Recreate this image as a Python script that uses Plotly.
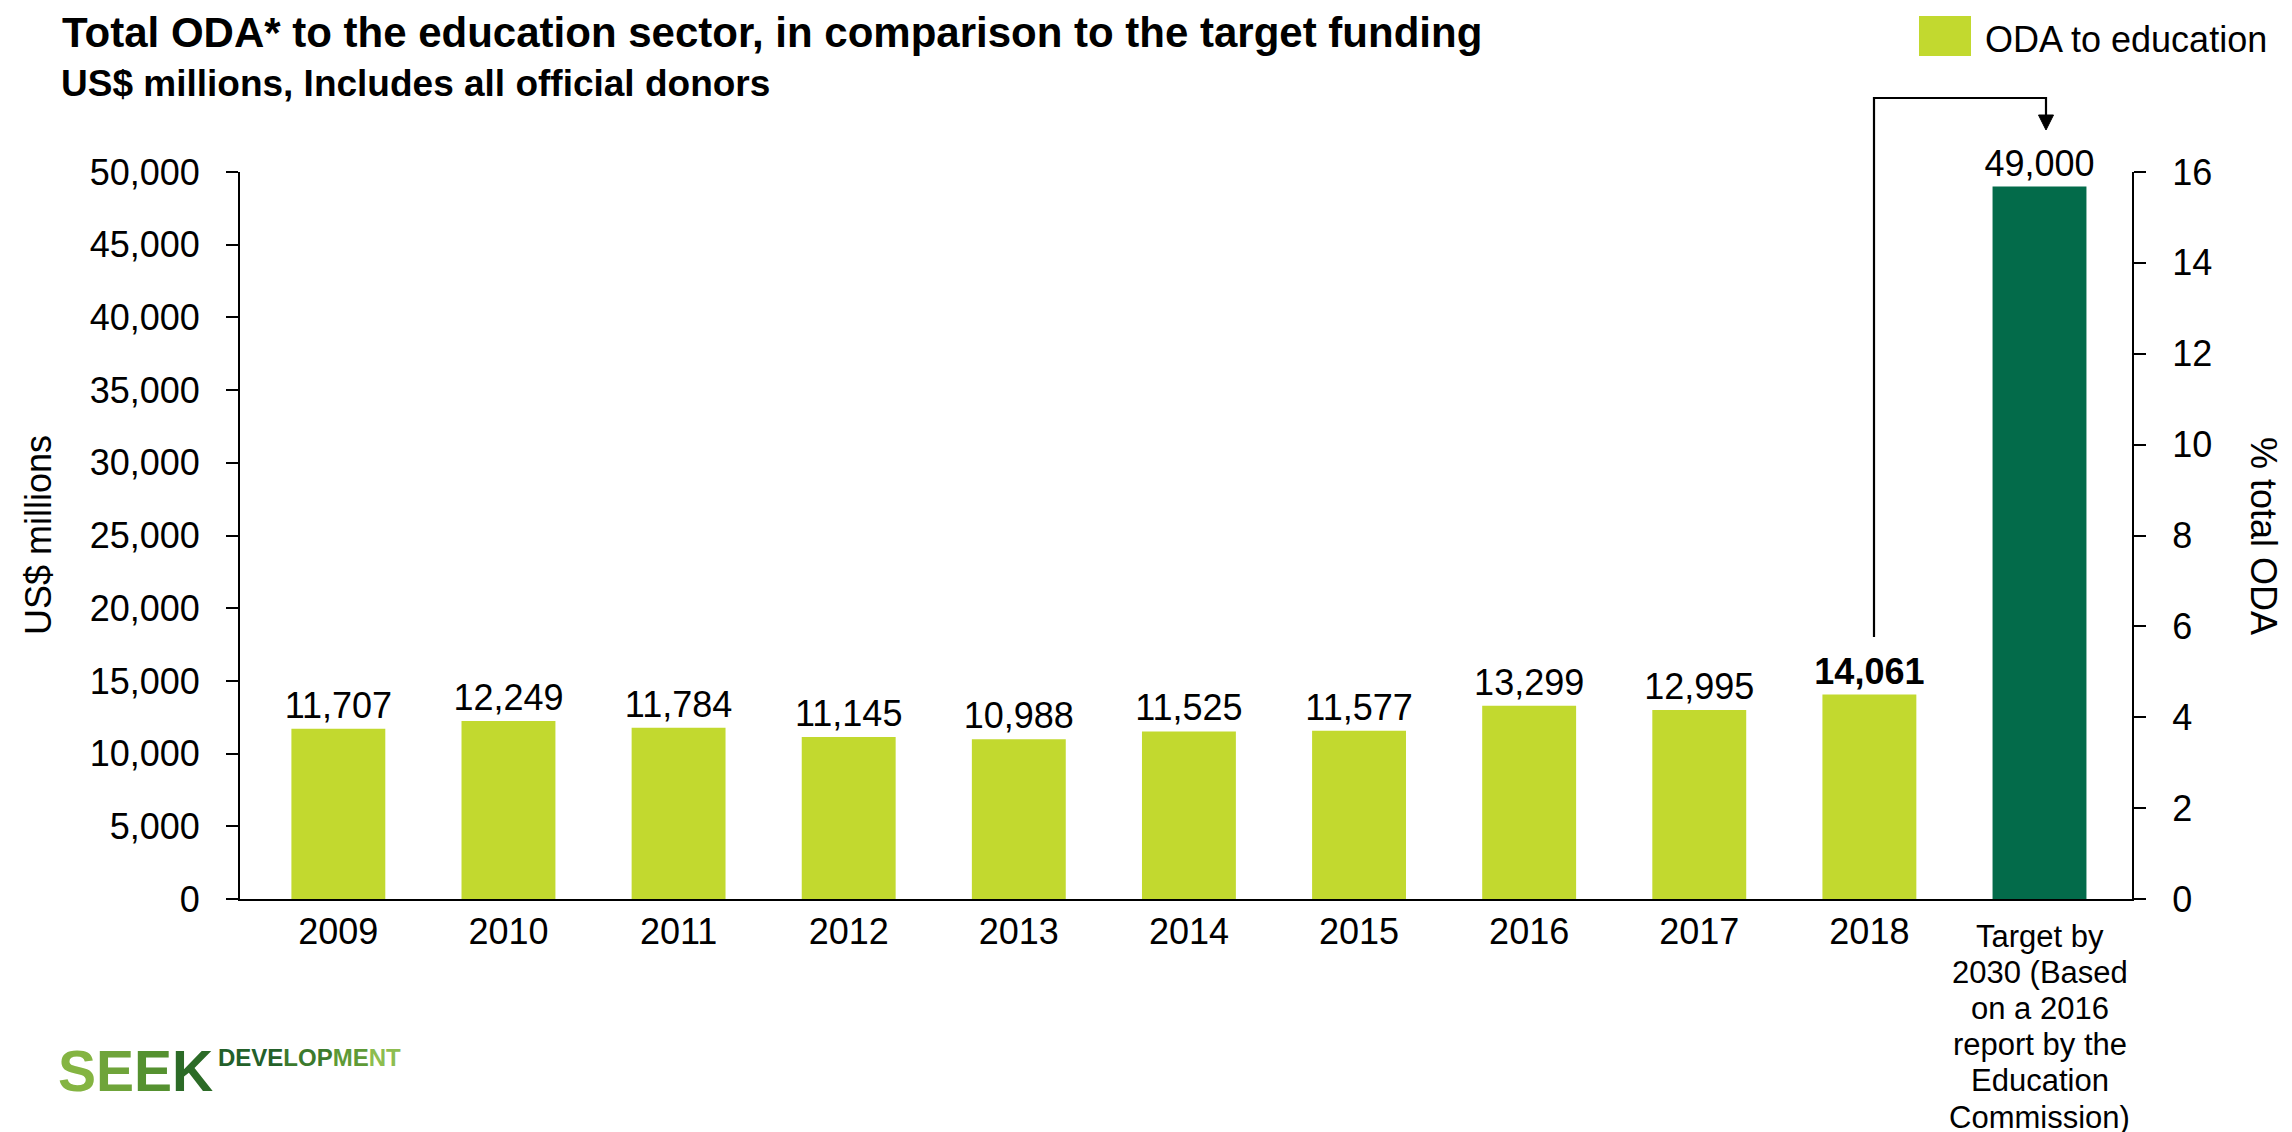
import plotly.graph_objects as go

# ---------------- data ----------------
categories = ['2009', '2010', '2011', '2012', '2013', '2014', '2015', '2016', '2017', '2018',
              'Target by 2030 (Based on a 2016 report by the Education Commission)']
oda_values = [11707, 12249, 11784, 11145, 10988, 11525, 11577, 13299, 12995, 14061, 49000]
tick_labels = ['2009', '2010', '2011', '2012', '2013', '2014', '2015', '2016', '2017', '2018', '']
target_label_lines = ['Target by', '2030 (Based', 'on a 2016', 'report by the', 'Education', 'Commission)']
bold_labels = ['2018']
left_ticks = [0, 5000, 10000, 15000, 20000, 25000, 30000, 35000, 40000, 45000, 50000]
right_ticks = [0, 2, 4, 6, 8, 10, 12, 14, 16]

LIGHT = '#C2D92F'
DARK = '#036B4A'
bar_colors = [DARK if c.startswith('Target') else LIGHT for c in categories]
bar_text = [('<b>{:,}</b>' if c in bold_labels else '{:,}').format(v) for c, v in zip(categories, oda_values)]

FONT = 'Liberation Sans, Arial, sans-serif'
W, H = 2292, 1132
L, R, T, B = 232, 168, 164, 241
PW, PH = W - L - R, H - T - B


def px_x(px):
    return (px - L) / PW


def px_y(py):
    return (H - B - py) / PH


def cat_x(i):
    return (i + 0.5) / len(categories)


fig = go.Figure()
fig.add_trace(go.Bar(
    x=categories, y=oda_values, name='ODA to education',
    marker=dict(color=bar_colors, line=dict(width=0)),
    text=bar_text, textposition='outside', textangle=0, constraintext='none',
    textfont=dict(family=FONT, size=36, color='black'),
    cliponaxis=False, showlegend=False, hoverinfo='x+y',
))
fig.add_trace(go.Scatter(x=[categories[0]], y=[None], yaxis='y2', showlegend=False,
                         hoverinfo='skip', mode='markers'))

annotations = []
shapes = []

# title & subtitle
annotations.append(dict(text='<b>Total ODA* to the education sector, in comparison to the target funding</b>',
                        xref='paper', yref='paper', x=px_x(52), y=px_y(24), xanchor='left', yanchor='middle',
                        showarrow=False, font=dict(family=FONT, size=42, color='black')))
annotations.append(dict(text='<b>US$ millions, Includes all official donors</b>',
                        xref='paper', yref='paper', x=px_x(51), y=px_y(75), xanchor='left', yanchor='middle',
                        showarrow=False, font=dict(family=FONT, size=37, color='black')))

# axis titles
annotations.append(dict(text='US$ millions', xref='paper', yref='paper', x=px_x(30), y=px_y(527),
                        xanchor='center', yanchor='middle', textangle=-90, showarrow=False,
                        font=dict(family=FONT, size=36, color='black')))
annotations.append(dict(text='% total ODA', xref='paper', yref='paper', x=px_x(2256), y=px_y(528),
                        xanchor='center', yanchor='middle', textangle=90, showarrow=False,
                        font=dict(family=FONT, size=36, color='black')))

# manual legend
shapes.append(dict(type='rect', xref='paper', yref='paper', x0=px_x(1911), x1=px_x(1963),
                   y0=px_y(48), y1=px_y(8), fillcolor=LIGHT, line=dict(width=0)))
annotations.append(dict(text='ODA to education', xref='paper', yref='paper', x=px_x(1975), y=px_y(31),
                        xanchor='left', yanchor='middle', showarrow=False,
                        font=dict(family=FONT, size=36, color='black')))

# multi-line target category label
for k, line in enumerate(target_label_lines):
    annotations.append(dict(text=line, xref='x', yref='paper', x=categories[-1], y=px_y(928 + 36.2 * k),
                            xanchor='center', yanchor='middle', showarrow=False,
                            font=dict(family=FONT, size=31, color='black')))

# connector arrow from 2018 to target
i18 = categories.index('2018')
itg = len(categories) - 1
xa, xb = cat_x(i18), cat_x(itg)
shapes.append(dict(type='path', xref='paper', yref='paper',
                   path=f'M {xa},{px_y(629)} L {xa},{px_y(90)} L {xb},{px_y(90)} L {xb},{px_y(108)}',
                   line=dict(color='black', width=2.2)))
hw = 7.5 / PW
shapes.append(dict(type='path', xref='paper', yref='paper',
                   path=f'M {xb - hw},{px_y(107)} L {xb + hw},{px_y(107)} L {xb},{px_y(122)} Z',
                   fillcolor='black', line=dict(color='black', width=1)))

# logo
annotations.append(dict(text='<b><span style="color:#84B442">S</span><span style="color:#6FA43A">E</span>'
                             '<span style="color:#559130">E</span><span style="color:#2C6B27">K</span></b>',
                        xref='paper', yref='paper', x=px_x(48), y=px_y(1063), xanchor='left', yanchor='middle',
                        showarrow=False, font=dict(family=FONT, size=57)))
annotations.append(dict(text='<b><span style="color:#23602A">DEVE</span><span style="color:#3C7A2D">LOP</span>'
                             '<span style="color:#5E9A36">ME</span><span style="color:#8DBD50">NT</span></b>',
                        xref='paper', yref='paper', x=px_x(208), y=px_y(1049), xanchor='left', yanchor='middle',
                        showarrow=False, font=dict(family=FONT, size=24)))

fig.update_layout(
    width=W, height=H, autosize=False,
    margin=dict(l=L, r=R, t=T, b=B, pad=0),
    paper_bgcolor='white', plot_bgcolor='white',
    font=dict(family=FONT, size=36, color='black'),
    bargap=0.448,
    showlegend=False,
    xaxis=dict(type='category', categoryorder='array', categoryarray=categories,
               tickvals=categories, ticktext=tick_labels, ticks='', showgrid=False,
               showline=True, linecolor='black', linewidth=2, zeroline=False,
               tickfont=dict(family=FONT, size=36, color='black')),
    yaxis=dict(range=[0, 50000], tickvals=left_ticks, tickformat=',', ticks='outside', ticklen=12,
               tickwidth=2, tickcolor='black', showline=True, linecolor='black', linewidth=2,
               ticklabelstandoff=19,
               showgrid=False, zeroline=False, tickfont=dict(family=FONT, size=36, color='black')),
    yaxis2=dict(range=[0, 16], tickvals=right_ticks, overlaying='y', side='right', ticks='outside',
                ticklen=12, tickwidth=2, tickcolor='black', showline=True, linecolor='black', linewidth=2,
                ticklabelstandoff=19,
                showgrid=False, zeroline=False, tickfont=dict(family=FONT, size=36, color='black')),
    annotations=annotations,
    shapes=shapes,
)

fig.write_html('out.html')
